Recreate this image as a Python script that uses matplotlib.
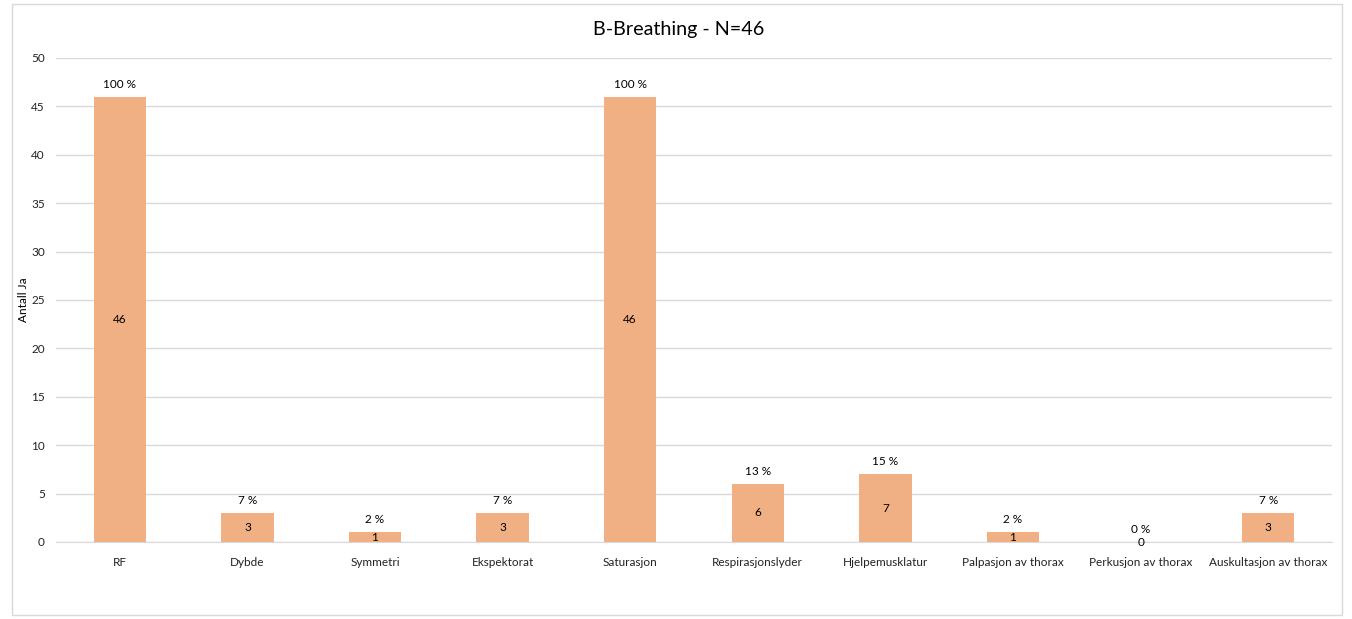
import matplotlib
matplotlib.use("Agg")
import matplotlib.pyplot as plt
from matplotlib.patches import Rectangle

categories = ["RF", "Dybde", "Symmetri", "Ekspektorat", "Saturasjon",
              "Respirasjonslyder", "Hjelpemusklatur", "Palpasjon av thorax",
              "Perkusjon av thorax", "Auskultasjon av thorax"]
counts = [46, 3, 1, 3, 46, 6, 7, 1, 0, 3]
percents = [100, 7, 2, 7, 100, 13, 15, 2, 0, 7]
N = 46

plt.rcParams["font.family"] = ["Lato", "DejaVu Sans"]

fig = plt.figure(figsize=(13.52, 6.19), dpi=100)
# light chart frame
fig.patches.append(Rectangle((12 / 1352, 4 / 619), 1330 / 1352, 611 / 619,
                             transform=fig.transFigure, fill=False,
                             edgecolor="#D9D9D9", lw=1))
ax = fig.add_axes([56 / 1352, 1 - 542 / 619, 1276 / 1352, 484 / 619])

x = list(range(len(categories)))
ax.bar(x, counts, width=0.41, color="#F0B084", zorder=3)
for xi, c, p in zip(x, counts, percents):
    ax.text(xi, c / 2, str(c), ha="center", va="center", fontsize=8.5, zorder=4)
    ax.annotate(f"{p} %", (xi, c), xytext=(0, 5), textcoords="offset points",
                ha="center", va="bottom", fontsize=8.5)

ax.set_xlim(-0.5, len(categories) - 0.5)
ax.set_ylim(0, 50)
ax.set_yticks(range(0, 51, 5))
ax.set_xticks(x)
ax.set_xticklabels(categories)
ax.tick_params(axis="both", length=0, labelsize=8.5, colors="#222222")
ax.tick_params(axis="x", pad=11)
ax.tick_params(axis="y", pad=8)
ax.grid(axis="y", color="#D9D9D9", lw=1, zorder=0)
for s in ["top", "right", "left"]:
    ax.spines[s].set_visible(False)
ax.spines["bottom"].set_color("#D9D9D9")
ax.set_ylabel("Antall Ja", fontsize=8.5)
ax.yaxis.set_label_coords(-0.0215, 0.5)

fig.text(679 / 1352, 1 - 30 / 619, f"B-Breathing - N={N}",
         ha="center", va="center", fontsize=14.2)

fig.savefig("out.png", dpi=100)
